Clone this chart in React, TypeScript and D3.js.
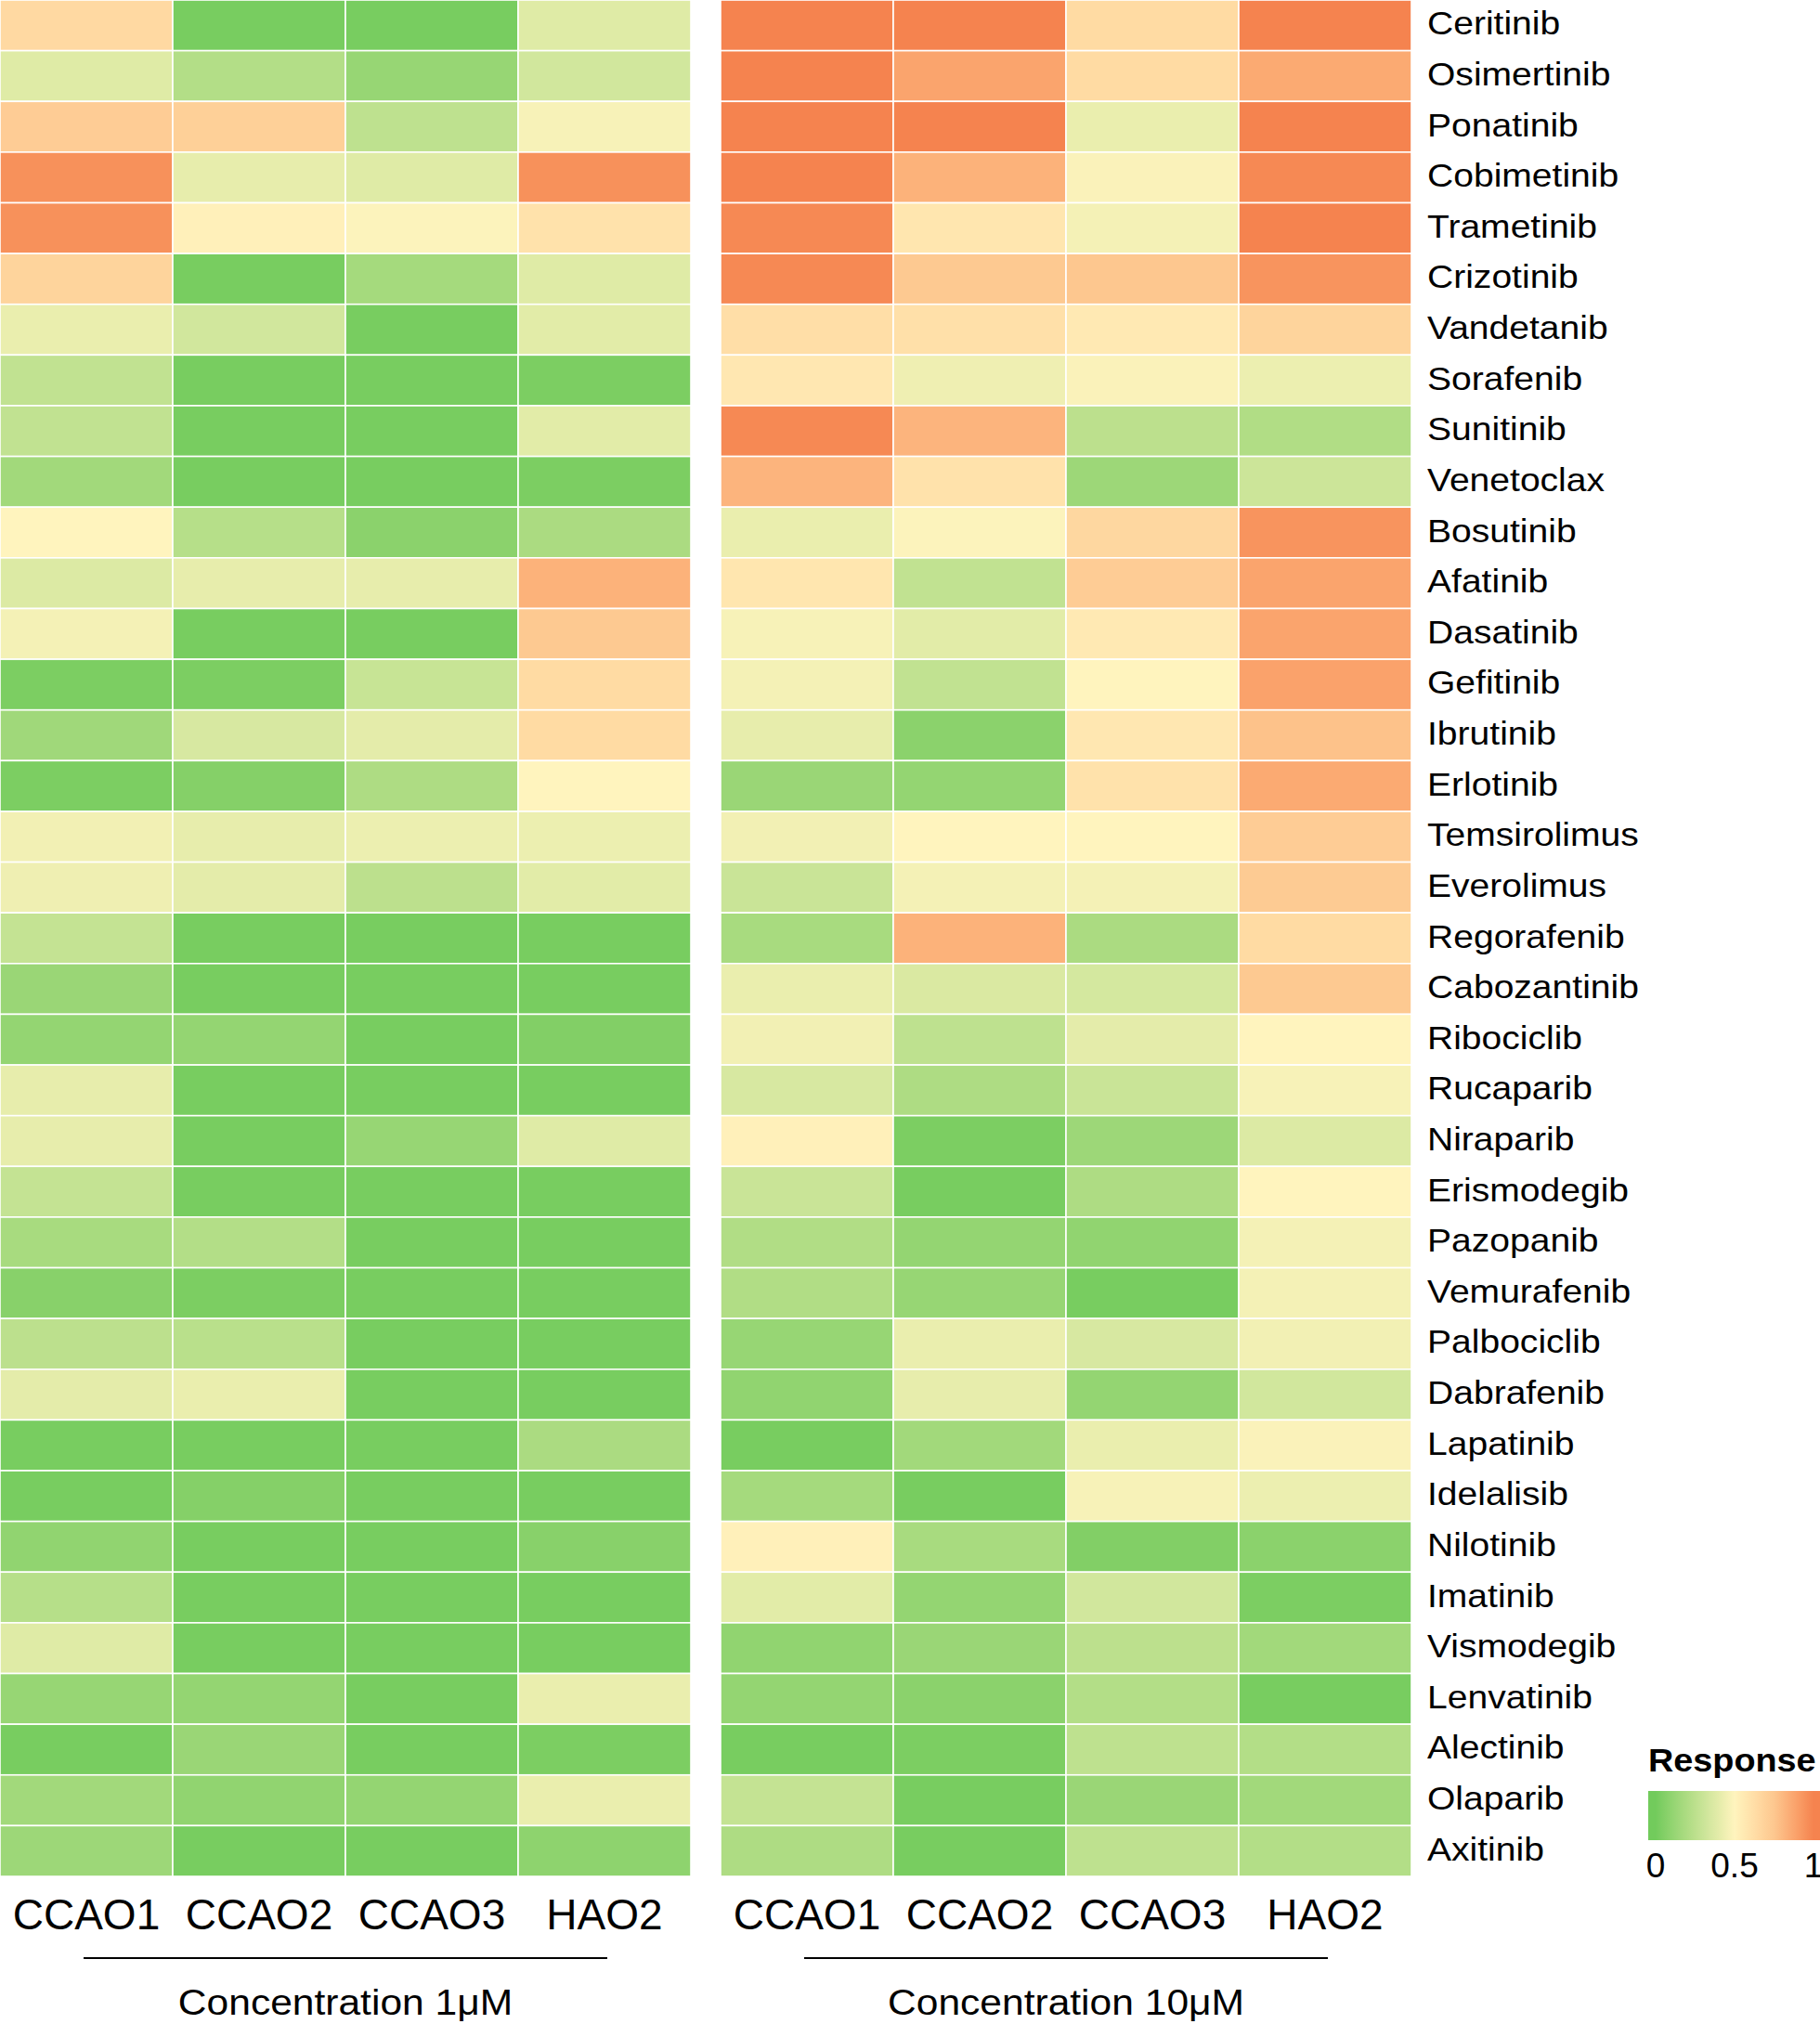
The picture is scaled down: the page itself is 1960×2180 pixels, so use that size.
import React from "react";
import * as d3 from "d3";

const drugs = [
  "Ceritinib", "Osimertinib", "Ponatinib", "Cobimetinib", "Trametinib", "Crizotinib",
  "Vandetanib", "Sorafenib", "Sunitinib", "Venetoclax", "Bosutinib", "Afatinib",
  "Dasatinib", "Gefitinib", "Ibrutinib", "Erlotinib", "Temsirolimus", "Everolimus",
  "Regorafenib", "Cabozantinib", "Ribociclib", "Rucaparib", "Niraparib", "Erismodegib",
  "Pazopanib", "Vemurafenib", "Palbociclib", "Dabrafenib", "Lapatinib", "Idelalisib",
  "Nilotinib", "Imatinib", "Vismodegib", "Lenvatinib", "Alectinib", "Olaparib", "Axitinib",
];

const cellLines = ["CCAO1", "CCAO2", "CCAO3", "HAO2"];

// Response at 1 µM, rows follow `drugs`, columns follow `cellLines`
const response1uM = [
  [0.65, 0.02, 0.02, 0.38],
  [0.38, 0.22, 0.12, 0.33],
  [0.72, 0.70, 0.26, 0.47],
  [0.95, 0.41, 0.38, 0.95],
  [0.95, 0.52, 0.49, 0.60],
  [0.68, 0.02, 0.17, 0.38],
  [0.42, 0.33, 0.02, 0.39],
  [0.27, 0.02, 0.02, 0.03],
  [0.27, 0.02, 0.02, 0.39],
  [0.16, 0.02, 0.02, 0.03],
  [0.50, 0.23, 0.08, 0.19],
  [0.37, 0.41, 0.41, 0.83],
  [0.46, 0.02, 0.02, 0.74],
  [0.03, 0.03, 0.29, 0.64],
  [0.15, 0.35, 0.40, 0.64],
  [0.03, 0.06, 0.20, 0.50],
  [0.45, 0.41, 0.43, 0.43],
  [0.44, 0.40, 0.25, 0.39],
  [0.28, 0.02, 0.02, 0.02],
  [0.13, 0.02, 0.02, 0.02],
  [0.11, 0.11, 0.02, 0.05],
  [0.41, 0.02, 0.02, 0.02],
  [0.41, 0.02, 0.12, 0.38],
  [0.28, 0.02, 0.02, 0.02],
  [0.18, 0.22, 0.02, 0.02],
  [0.07, 0.03, 0.02, 0.02],
  [0.25, 0.24, 0.02, 0.02],
  [0.40, 0.42, 0.02, 0.02],
  [0.02, 0.02, 0.02, 0.19],
  [0.02, 0.06, 0.02, 0.02],
  [0.10, 0.02, 0.02, 0.07],
  [0.23, 0.02, 0.02, 0.02],
  [0.38, 0.02, 0.02, 0.02],
  [0.12, 0.11, 0.02, 0.42],
  [0.02, 0.13, 0.02, 0.03],
  [0.16, 0.10, 0.11, 0.42],
  [0.14, 0.02, 0.02, 0.09],
];

// Response at 10 µM
const response10uM = [
  [1.00, 1.00, 0.64, 1.00],
  [1.00, 0.88, 0.64, 0.86],
  [1.00, 1.00, 0.42, 1.00],
  [1.00, 0.83, 0.48, 0.98],
  [0.98, 0.58, 0.46, 1.00],
  [0.98, 0.74, 0.75, 0.94],
  [0.62, 0.61, 0.56, 0.68],
  [0.57, 0.44, 0.48, 0.43],
  [0.98, 0.82, 0.25, 0.21],
  [0.82, 0.60, 0.14, 0.31],
  [0.42, 0.49, 0.66, 0.94],
  [0.58, 0.27, 0.72, 0.88],
  [0.47, 0.39, 0.56, 0.88],
  [0.46, 0.27, 0.50, 0.89],
  [0.41, 0.08, 0.57, 0.77],
  [0.13, 0.11, 0.60, 0.86],
  [0.45, 0.50, 0.50, 0.72],
  [0.30, 0.46, 0.46, 0.73],
  [0.18, 0.83, 0.19, 0.64],
  [0.42, 0.36, 0.34, 0.74],
  [0.45, 0.26, 0.40, 0.50],
  [0.35, 0.20, 0.30, 0.47],
  [0.52, 0.03, 0.14, 0.37],
  [0.30, 0.02, 0.20, 0.50],
  [0.21, 0.11, 0.10, 0.46],
  [0.21, 0.12, 0.02, 0.46],
  [0.12, 0.42, 0.35, 0.45],
  [0.10, 0.41, 0.11, 0.33],
  [0.02, 0.16, 0.42, 0.48],
  [0.17, 0.02, 0.47, 0.43],
  [0.52, 0.18, 0.05, 0.08],
  [0.39, 0.11, 0.33, 0.03],
  [0.10, 0.13, 0.25, 0.16],
  [0.11, 0.08, 0.22, 0.02],
  [0.02, 0.03, 0.26, 0.22],
  [0.28, 0.02, 0.13, 0.16],
  [0.20, 0.02, 0.26, 0.22],
];

const panelTitles = ["Concentration 1\u03BCM", "Concentration 10\u03BCM"];
const legendTicks = [0, 0.5, 1];
const legendTitle = "Response";

const FONT = "'Liberation Sans', Arial, Helvetica, sans-serif";

export default function App() {
  const W = 1960;
  const H = 2180;
  const panelX = [0, 776];
  const panelW = 744;
  const heatH = 2021;

  const color = d3
    .scaleLinear<string>()
    .domain([0, 0.5, 0.75, 1])
    .range(["#72CB5C", "#FFF4BE", "#FDC78F", "#F5834F"])
    .interpolate(d3.interpolateLab)
    .clamp(true);

  const x = d3.scaleBand().domain(cellLines).range([0, panelW]);
  const y = d3.scaleBand().domain(drugs).range([0, heatH]);

  const panels = [response1uM, response10uM];

  const legX = d3.scaleLinear().domain([0, 1]).range([1783, 1953]);
  const gradStops = d3.range(0, 1.0001, 0.05);

  return (
    <div style={{ position: "absolute", left: 0, top: 0 }}>
      <svg width={W} height={H} viewBox={`0 0 ${W} ${H}`} style={{ display: "block" }}>
        <rect x={0} y={0} width={W} height={H} fill="#ffffff" />
        <defs>
          <linearGradient id="respGrad" x1="1775" x2="1961" y1="0" y2="0" gradientUnits="userSpaceOnUse">
            {gradStops.map((t) => (
              <stop key={t} offset={(legX(t) - 1775) / (1961 - 1775)} stopColor={color(t)} />
            ))}
          </linearGradient>
        </defs>
        {panels.map((mat, pi) => (
          <g key={pi} transform={`translate(${panelX[pi]},0)`}>
            {mat.map((row, ri) =>
              row.map((v, ci) => (
                <rect
                  key={`${ri}-${ci}`}
                  x={x(cellLines[ci])!}
                  y={y(drugs[ri])!}
                  width={x.bandwidth()}
                  height={y.bandwidth()}
                  fill={color(v)}
                  stroke="#ffffff"
                  strokeWidth={1.6}
                />
              ))
            )}
            {cellLines.map((c) => (
              <text
                key={c}
                x={x(c)! + x.bandwidth() / 2}
                y={2078}
                textAnchor="middle"
                fontFamily={FONT}
                fontSize={46}
                fill="#000"
              >
                {c}
              </text>
            ))}
            <line x1={panelW / 2 - 282} x2={panelW / 2 + 282} y1={2109} y2={2109} stroke="#000" strokeWidth={2} />
            <g transform={`translate(${panelW / 2},2170) scale(1.12,1)`}>
              <text x={0} y={0} textAnchor="middle" fontFamily={FONT} fontSize={38} fill="#000">
                {panelTitles[pi]}
              </text>
            </g>
          </g>
        ))}
        {drugs.map((d) => (
          <g key={d} transform={`translate(1537,${y(d)! + y.bandwidth() / 2 + 10}) scale(1.085,1)`}>
            <text x={0} y={0} fontFamily={FONT} fontSize={36} fill="#000">
              {d}
            </text>
          </g>
        ))}
        <g transform="translate(1775,1908) scale(1.08,1)">
          <text x={0} y={0} fontFamily={FONT} fontSize={35} fontWeight="bold" fill="#000">
            {legendTitle}
          </text>
        </g>
        <rect x={1775} y={1929} width={186} height={53} fill="url(#respGrad)" />
        {legendTicks.map((t) => (
          <text key={t} x={legX(t)} y={2022} textAnchor="middle" fontFamily={FONT} fontSize={37} fill="#000">
            {String(t)}
          </text>
        ))}
      </svg>
    </div>
  );
}
